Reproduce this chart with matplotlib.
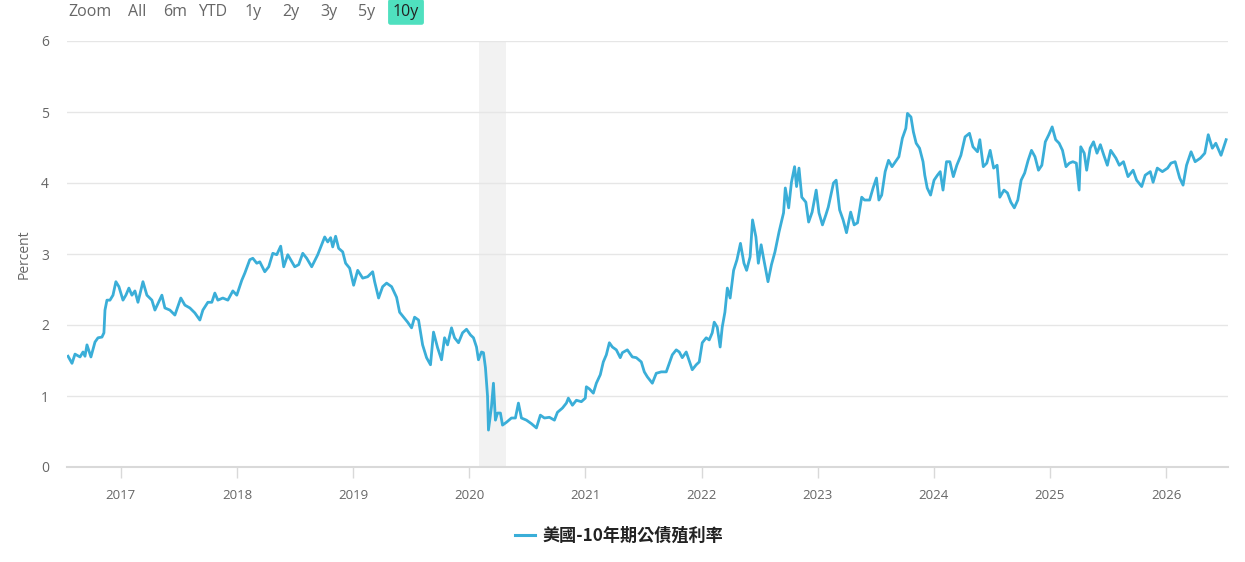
import matplotlib
matplotlib.use("Agg")
import matplotlib.pyplot as plt
from matplotlib.lines import Line2D

plt.rcParams['font.family'] = ['Open Sans', 'Noto Sans CJK TC', 'DejaVu Sans']

# decimal year / percent
t_2016_2018 = [2016.545, 2016.579, 2016.605, 2016.648, 2016.674, 2016.691, 2016.708, 2016.742,
               2016.777, 2016.803, 2016.837, 2016.854, 2016.863, 2016.880, 2016.906, 2016.932,
               2016.957, 2016.983, 2017.018, 2017.043, 2017.069, 2017.095, 2017.121, 2017.147,
               2017.190, 2017.224, 2017.267, 2017.293, 2017.353, 2017.379, 2017.422, 2017.465,
               2017.516, 2017.551, 2017.594, 2017.637, 2017.680, 2017.706, 2017.749, 2017.783,
               2017.809, 2017.835, 2017.878, 2017.921, 2017.964, 2017.998, 2018.041, 2018.067,
               2018.110, 2018.136, 2018.170, 2018.196, 2018.239, 2018.273, 2018.308, 2018.342]
y_2016_2018 = [1.56, 1.46, 1.59, 1.55, 1.62, 1.56, 1.72, 1.55,
               1.76, 1.82, 1.83, 1.89, 2.21, 2.35, 2.35, 2.42,
               2.61, 2.54, 2.35, 2.42, 2.52, 2.42, 2.48, 2.32,
               2.61, 2.42, 2.35, 2.21, 2.42, 2.24, 2.21, 2.14,
               2.38, 2.28, 2.24, 2.17, 2.07, 2.21, 2.32, 2.32,
               2.45, 2.35, 2.38, 2.35, 2.48, 2.42, 2.63, 2.73,
               2.92, 2.94, 2.87, 2.89, 2.75, 2.82, 3.01, 2.99]

t_2018_2020 = [2018.376, 2018.402, 2018.437, 2018.497, 2018.531, 2018.566, 2018.600, 2018.643,
               2018.695, 2018.755, 2018.781, 2018.806, 2018.824, 2018.849, 2018.875, 2018.910,
               2018.935, 2018.970, 2019.004, 2019.039, 2019.082, 2019.125, 2019.168, 2019.185,
               2019.219, 2019.254, 2019.288, 2019.331, 2019.374, 2019.400, 2019.434, 2019.469,
               2019.503, 2019.529, 2019.563, 2019.598, 2019.632, 2019.666, 2019.692, 2019.727,
               2019.761, 2019.787, 2019.813, 2019.847, 2019.873, 2019.907, 2019.942, 2019.976,
               2020.010, 2020.036, 2020.062, 2020.079, 2020.105, 2020.122, 2020.139, 2020.157,
               2020.165, 2020.191, 2020.208, 2020.225, 2020.243, 2020.268, 2020.286, 2020.320,
               2020.363, 2020.397, 2020.423, 2020.449, 2020.492, 2020.535, 2020.578, 2020.612,
               2020.647, 2020.690, 2020.733, 2020.759, 2020.802, 2020.836, 2020.853, 2020.888,
               2020.922, 2020.965, 2020.999]
y_2018_2020 = [3.11, 2.82, 2.99, 2.82, 2.85, 3.01, 2.94, 2.82,
               2.99, 3.24, 3.17, 3.23, 3.10, 3.25, 3.08, 3.03,
               2.87, 2.80, 2.56, 2.77, 2.66, 2.68, 2.75, 2.61,
               2.38, 2.54, 2.59, 2.54, 2.39, 2.18, 2.11, 2.04,
               1.96, 2.11, 2.07, 1.72, 1.54, 1.44, 1.90, 1.68,
               1.51, 1.82, 1.72, 1.96, 1.82, 1.75, 1.89, 1.94,
               1.86, 1.82, 1.69, 1.51, 1.62, 1.61, 1.40, 1.00,
               0.52, 0.85, 1.18, 0.66, 0.76, 0.76, 0.59, 0.63,
               0.69, 0.69, 0.90, 0.69, 0.66, 0.61, 0.55, 0.73,
               0.69, 0.70, 0.66, 0.77, 0.83, 0.90, 0.97, 0.87,
               0.94, 0.92, 0.97]

t_2021_2022 = [2021.008, 2021.034, 2021.068, 2021.094, 2021.128, 2021.154, 2021.180, 2021.206,
               2021.232, 2021.266, 2021.300, 2021.318, 2021.361, 2021.404, 2021.438, 2021.481,
               2021.507, 2021.533, 2021.576, 2021.610, 2021.653, 2021.696, 2021.748, 2021.782,
               2021.808, 2021.834, 2021.868, 2021.920, 2021.954, 2021.980, 2022.006, 2022.040,
               2022.066, 2022.092, 2022.109, 2022.135, 2022.160, 2022.178, 2022.201, 2022.222,
               2022.246, 2022.276, 2022.305, 2022.335, 2022.365, 2022.388, 2022.418, 2022.439,
               2022.468, 2022.489, 2022.513, 2022.534, 2022.572, 2022.602, 2022.632, 2022.667,
               2022.706, 2022.721, 2022.750, 2022.774, 2022.801, 2022.818, 2022.839, 2022.863,
               2022.898, 2022.922, 2022.952, 2022.987]
y_2021_2022 = [1.13, 1.10, 1.04, 1.18, 1.30, 1.48, 1.58, 1.75,
               1.69, 1.65, 1.54, 1.61, 1.65, 1.55, 1.54, 1.48,
               1.34, 1.27, 1.18, 1.32, 1.34, 1.34, 1.58, 1.65,
               1.62, 1.54, 1.62, 1.37, 1.44, 1.48, 1.75, 1.82,
               1.79, 1.89, 2.04, 1.97, 1.69, 1.97, 2.18, 2.52,
               2.38, 2.77, 2.92, 3.15, 2.87, 2.77, 2.96, 3.48,
               3.24, 2.87, 3.13, 2.94, 2.61, 2.85, 3.03, 3.31,
               3.58, 3.93, 3.65, 4.01, 4.23, 3.95, 4.21, 3.80,
               3.73, 3.45, 3.59, 3.90]

t_2023_2024 = [2023.011, 2023.041, 2023.070, 2023.091, 2023.136, 2023.159, 2023.189, 2023.219,
               2023.248, 2023.284, 2023.314, 2023.343, 2023.379, 2023.403, 2023.447, 2023.477,
               2023.506, 2023.527, 2023.551, 2023.581, 2023.610, 2023.640, 2023.670, 2023.699,
               2023.729, 2023.759, 2023.773, 2023.803, 2023.824, 2023.848, 2023.877, 2023.907,
               2023.922, 2023.943, 2023.972, 2024.002, 2024.031, 2024.055, 2024.079, 2024.109,
               2024.138, 2024.168, 2024.198, 2024.233, 2024.269, 2024.307, 2024.337, 2024.376,
               2024.396, 2024.426, 2024.456, 2024.485, 2024.515, 2024.545, 2024.568, 2024.604,
               2024.634, 2024.663, 2024.693, 2024.723, 2024.752, 2024.782, 2024.812, 2024.841,
               2024.871, 2024.901, 2024.930, 2024.960, 2024.990]
y_2023_2024 = [3.58, 3.41, 3.55, 3.66, 4.00, 4.04, 3.62, 3.48,
               3.30, 3.59, 3.41, 3.44, 3.80, 3.76, 3.76, 3.93,
               4.07, 3.76, 3.83, 4.16, 4.32, 4.23, 4.30, 4.37,
               4.63, 4.77, 4.98, 4.93, 4.72, 4.56, 4.49, 4.30,
               4.11, 3.93, 3.83, 4.04, 4.11, 4.16, 3.90, 4.30,
               4.30, 4.09, 4.25, 4.39, 4.65, 4.70, 4.51, 4.44,
               4.61, 4.23, 4.28, 4.46, 4.21, 4.25, 3.80, 3.90,
               3.86, 3.73, 3.65, 3.76, 4.04, 4.14, 4.32, 4.46,
               4.37, 4.18, 4.25, 4.58, 4.68]

t_2025_2026 = [2025.019, 2025.049, 2025.079, 2025.108, 2025.138, 2025.167, 2025.197, 2025.227,
               2025.251, 2025.265, 2025.295, 2025.316, 2025.346, 2025.375, 2025.405, 2025.434,
               2025.464, 2025.494, 2025.523, 2025.568, 2025.597, 2025.633, 2025.672, 2025.716,
               2025.746, 2025.790, 2025.820, 2025.864, 2025.888, 2025.924, 2025.968, 2026.013,
               2026.042, 2026.078, 2026.117, 2026.146, 2026.176, 2026.215, 2026.250, 2026.295,
               2026.333, 2026.363, 2026.398, 2026.428, 2026.473, 2026.517]
y_2025_2026 = [4.79, 4.61, 4.56, 4.46, 4.23, 4.28, 4.30, 4.28,
               3.90, 4.51, 4.42, 4.18, 4.49, 4.58, 4.42, 4.54,
               4.39, 4.25, 4.46, 4.35, 4.25, 4.30, 4.09, 4.18,
               4.04, 3.95, 4.11, 4.16, 4.01, 4.21, 4.16, 4.21,
               4.28, 4.30, 4.07, 3.97, 4.25, 4.44, 4.30, 4.35,
               4.42, 4.68, 4.49, 4.56, 4.39, 4.61]

years = [2017, 2018, 2019, 2020, 2021, 2022, 2023, 2024, 2025, 2026]
recession = (2020.08, 2020.32)
series_name = "美國-10年期公債殖利率"
buttons = ["All", "6m", "YTD", "1y", "2y", "3y", "5y", "10y"]

t = t_2016_2018 + t_2018_2020 + t_2021_2022 + t_2023_2024 + t_2025_2026
y = y_2016_2018 + y_2018_2020 + y_2021_2022 + y_2023_2024 + y_2025_2026

line_col = '#3aaed8'
grey = '#666666'

fig = plt.figure(figsize=(12.45, 5.62), dpi=100)
ax = fig.add_axes([67/1245, 95/562, (1228-67)/1245, (467-41)/562])

ax.axvspan(recession[0], recession[1], color='#f2f2f2', lw=0, zorder=0)
ax.plot(t, y, color=line_col, lw=2.0, zorder=3)

ax.set_xlim(2016.536, 2026.533)
ax.set_ylim(0, 6)
ax.set_yticks(range(0, 7))
ax.set_xticks(years)
ax.set_xticklabels([str(v) for v in years])

ax.grid(axis='y', color='#e6e6e6', lw=1, zorder=1)
for s in ['top', 'right', 'left']:
    ax.spines[s].set_visible(False)
ax.spines['bottom'].set_color('#d9d9d9')
ax.spines['bottom'].set_linewidth(1.5)
ax.tick_params(axis='y', length=0, pad=13, labelsize=10, labelcolor=grey)
ax.tick_params(axis='x', length=8, width=1, color='#d9d9d9', pad=8, labelsize=9.5, labelcolor=grey)
ax.set_ylabel("Percent", color=grey, fontsize=10, labelpad=7)

# range selector at the top
fig.text(68/1245, 1 - 12/562, "Zoom", color=grey, fontsize=11.5, va='center', ha='left')
btn_x = [137, 175, 213, 253, 291, 329, 367, 406]
for label, bx in zip(buttons, btn_x):
    if label == "10y":
        fig.text(bx/1245, 1 - 12/562, label, color='#222222', fontsize=11.5, va='center', ha='center',
                 bbox=dict(boxstyle='round,pad=0.3,rounding_size=0.15', fc='#4fe0bf', ec='none'))
    else:
        fig.text(bx/1245, 1 - 12/562, label, color=grey, fontsize=11.5, va='center', ha='center')

# legend
handle = Line2D([0], [0], color=line_col, lw=2.2)
leg = fig.legend([handle], [series_name], loc='center', bbox_to_anchor=(619/1245, 1 - 536/562),
                 frameon=False, handlelength=1.15, handletextpad=0.45,
                 prop={'family': ['Noto Sans CJK TC', 'DejaVu Sans'], 'weight': 'bold', 'size': 12.3})
for txt in leg.get_texts():
    txt.set_color('#222222')

fig.savefig("out.png", dpi=100)
